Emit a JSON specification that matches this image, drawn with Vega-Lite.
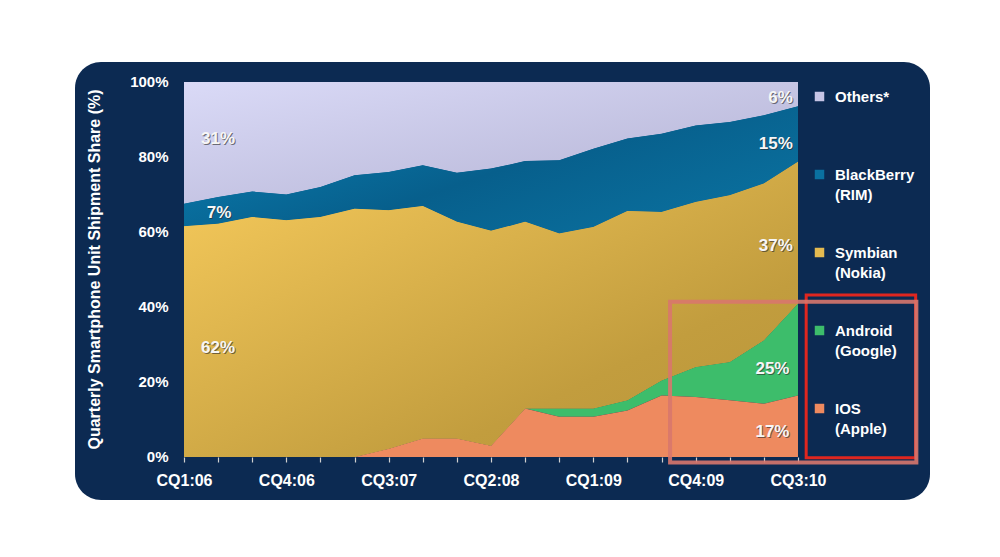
{
  "$schema": "https://vega.github.io/schema/vega-lite/v6.json",
  "width": 855,
  "height": 438,
  "autosize": {"type": "none"},
  "padding": {"left": 75, "top": 62, "right": 70, "bottom": 57},
  "background": "#ffffff",
  "config": {
    "view": {"fill": "#0c2a52", "stroke": null, "cornerRadius": 26},
    "font": "Liberation Sans",
    "axis": {"grid": false}
  },
  "datasets": {
    "share": [
      {"q":0,"os":"Others*","rank":5,"share":32.5},{"q":0,"os":"BlackBerry (RIM)","rank":4,"share":6.0},{"q":0,"os":"Symbian (Nokia)","rank":3,"share":61.5},{"q":0,"os":"Android (Google)","rank":2,"share":0},{"q":0,"os":"IOS (Apple)","rank":1,"share":0},
      {"q":1,"os":"Others*","rank":5,"share":30.7},{"q":1,"os":"BlackBerry (RIM)","rank":4,"share":7.1},{"q":1,"os":"Symbian (Nokia)","rank":3,"share":62.2},{"q":1,"os":"Android (Google)","rank":2,"share":0},{"q":1,"os":"IOS (Apple)","rank":1,"share":0},
      {"q":2,"os":"Others*","rank":5,"share":29.2},{"q":2,"os":"BlackBerry (RIM)","rank":4,"share":6.8},{"q":2,"os":"Symbian (Nokia)","rank":3,"share":64.0},{"q":2,"os":"Android (Google)","rank":2,"share":0},{"q":2,"os":"IOS (Apple)","rank":1,"share":0},
      {"q":3,"os":"Others*","rank":5,"share":30.0},{"q":3,"os":"BlackBerry (RIM)","rank":4,"share":6.9},{"q":3,"os":"Symbian (Nokia)","rank":3,"share":63.1},{"q":3,"os":"Android (Google)","rank":2,"share":0},{"q":3,"os":"IOS (Apple)","rank":1,"share":0},
      {"q":4,"os":"Others*","rank":5,"share":28.0},{"q":4,"os":"BlackBerry (RIM)","rank":4,"share":8.0},{"q":4,"os":"Symbian (Nokia)","rank":3,"share":64.0},{"q":4,"os":"Android (Google)","rank":2,"share":0},{"q":4,"os":"IOS (Apple)","rank":1,"share":0},
      {"q":5,"os":"Others*","rank":5,"share":24.9},{"q":5,"os":"BlackBerry (RIM)","rank":4,"share":8.9},{"q":5,"os":"Symbian (Nokia)","rank":3,"share":66.2},{"q":5,"os":"Android (Google)","rank":2,"share":0},{"q":5,"os":"IOS (Apple)","rank":1,"share":0},
      {"q":6,"os":"Others*","rank":5,"share":24.0},{"q":6,"os":"BlackBerry (RIM)","rank":4,"share":10.2},{"q":6,"os":"Symbian (Nokia)","rank":3,"share":63.6},{"q":6,"os":"Android (Google)","rank":2,"share":0},{"q":6,"os":"IOS (Apple)","rank":1,"share":2.2},
      {"q":7,"os":"Others*","rank":5,"share":22.2},{"q":7,"os":"BlackBerry (RIM)","rank":4,"share":10.9},{"q":7,"os":"Symbian (Nokia)","rank":3,"share":62.0},{"q":7,"os":"Android (Google)","rank":2,"share":0},{"q":7,"os":"IOS (Apple)","rank":1,"share":4.9},
      {"q":8,"os":"Others*","rank":5,"share":24.2},{"q":8,"os":"BlackBerry (RIM)","rank":4,"share":13.1},{"q":8,"os":"Symbian (Nokia)","rank":3,"share":57.8},{"q":8,"os":"Android (Google)","rank":2,"share":0},{"q":8,"os":"IOS (Apple)","rank":1,"share":4.9},
      {"q":9,"os":"Others*","rank":5,"share":23.1},{"q":9,"os":"BlackBerry (RIM)","rank":4,"share":16.6},{"q":9,"os":"Symbian (Nokia)","rank":3,"share":57.3},{"q":9,"os":"Android (Google)","rank":2,"share":0},{"q":9,"os":"IOS (Apple)","rank":1,"share":3.0},
      {"q":10,"os":"Others*","rank":5,"share":21.1},{"q":10,"os":"BlackBerry (RIM)","rank":4,"share":16.2},{"q":10,"os":"Symbian (Nokia)","rank":3,"share":49.8},{"q":10,"os":"Android (Google)","rank":2,"share":0},{"q":10,"os":"IOS (Apple)","rank":1,"share":12.9},
      {"q":11,"os":"Others*","rank":5,"share":20.9},{"q":11,"os":"BlackBerry (RIM)","rank":4,"share":19.5},{"q":11,"os":"Symbian (Nokia)","rank":3,"share":46.7},{"q":11,"os":"Android (Google)","rank":2,"share":2.2},{"q":11,"os":"IOS (Apple)","rank":1,"share":10.7},
      {"q":12,"os":"Others*","rank":5,"share":17.8},{"q":12,"os":"BlackBerry (RIM)","rank":4,"share":20.9},{"q":12,"os":"Symbian (Nokia)","rank":3,"share":48.4},{"q":12,"os":"Android (Google)","rank":2,"share":2.2},{"q":12,"os":"IOS (Apple)","rank":1,"share":10.7},
      {"q":13,"os":"Others*","rank":5,"share":15.1},{"q":13,"os":"BlackBerry (RIM)","rank":4,"share":19.3},{"q":13,"os":"Symbian (Nokia)","rank":3,"share":50.5},{"q":13,"os":"Android (Google)","rank":2,"share":2.7},{"q":13,"os":"IOS (Apple)","rank":1,"share":12.4},
      {"q":14,"os":"Others*","rank":5,"share":13.8},{"q":14,"os":"BlackBerry (RIM)","rank":4,"share":20.9},{"q":14,"os":"Symbian (Nokia)","rank":3,"share":44.9},{"q":14,"os":"Android (Google)","rank":2,"share":4.0},{"q":14,"os":"IOS (Apple)","rank":1,"share":16.4},
      {"q":15,"os":"Others*","rank":5,"share":11.6},{"q":15,"os":"BlackBerry (RIM)","rank":4,"share":20.4},{"q":15,"os":"Symbian (Nokia)","rank":3,"share":44.0},{"q":15,"os":"Android (Google)","rank":2,"share":8.0},{"q":15,"os":"IOS (Apple)","rank":1,"share":16.0},
      {"q":16,"os":"Others*","rank":5,"share":10.7},{"q":16,"os":"BlackBerry (RIM)","rank":4,"share":19.5},{"q":16,"os":"Symbian (Nokia)","rank":3,"share":44.5},{"q":16,"os":"Android (Google)","rank":2,"share":10.2},{"q":16,"os":"IOS (Apple)","rank":1,"share":15.1},
      {"q":17,"os":"Others*","rank":5,"share":8.9},{"q":17,"os":"BlackBerry (RIM)","rank":4,"share":18.2},{"q":17,"os":"Symbian (Nokia)","rank":3,"share":41.8},{"q":17,"os":"Android (Google)","rank":2,"share":16.9},{"q":17,"os":"IOS (Apple)","rank":1,"share":14.2},
      {"q":18,"os":"Others*","rank":5,"share":6.5},{"q":18,"os":"BlackBerry (RIM)","rank":4,"share":14.8},{"q":18,"os":"Symbian (Nokia)","rank":3,"share":37.8},{"q":18,"os":"Android (Google)","rank":2,"share":24.5},{"q":18,"os":"IOS (Apple)","rank":1,"share":16.4}
    ],
    "labelsLeft": [
      {"q":1.0,"share":84.8,"text":"31%"},
      {"q":1.03,"share":65.1,"text":"7%"},
      {"q":1.0,"share":29.1,"text":"62%"}
    ],
    "labelsRight": [
      {"q":17.85,"share":95.8,"text":"6%"},
      {"q":17.85,"share":83.5,"text":"15%"},
      {"q":17.85,"share":56.3,"text":"37%"},
      {"q":17.75,"share":23.5,"text":"25%"},
      {"q":17.75,"share":6.7,"text":"17%"}
    ],
    "boxDark": [{"q":18.24,"q2":21.45,"share":43.2,"share2":-0.2}],
    "boxLight": [{"q":14.25,"q2":21.47,"share":41.4,"share2":-1.47}]
  },
  "layer": [
    {
      "data": {"name": "share"},
      "mark": {"type": "area", "interpolate": "linear"},
      "encoding": {
        "x": {
          "field": "q", "type": "quantitative",
          "scale": {"domain": [-3.196, 21.87], "nice": false, "zero": false},
          "axis": {
            "values": [0,1,2,3,4,5,6,7,8,9,10,11,12,13,14,15,16,17,18],
            "offset": -43, "domain": false, "ticks": true, "tickColor": "#d0d0d0", "tickSize": 5, "tickWidth": 1.2,
            "labelExpr": "datum.value % 3 == 0 ? ['CQ1:06','CQ2:06','CQ3:06','CQ4:06','CQ1:07','CQ2:07','CQ3:07','CQ4:07','CQ1:08','CQ2:08','CQ3:08','CQ4:08','CQ1:09','CQ2:09','CQ3:09','CQ4:09','CQ1:10','CQ2:10','CQ3:10'][datum.value] : ''",
            "labelColor": "#ffffff", "labelFont": "Liberation Sans", "labelFontSize": 16, "labelFontWeight": "bold",
            "labelPadding": 10, "labelFlush": false, "labelOverlap": false, "title": null
          }
        },
        "y": {
          "field": "share", "type": "quantitative", "stack": "zero",
          "scale": {"domain": [-11.47, 105.33], "nice": false, "zero": false},
          "axis": {
            "values": [0,20,40,60,80,100], "offset": -109, "domain": false, "ticks": false,
            "labelExpr": "datum.value + '%'", "labelColor": "#ffffff", "labelFont": "Liberation Sans",
            "labelFontSize": 15, "labelFontWeight": "bold", "labelPadding": 16,
            "title": "Quarterly Smartphone Unit Shipment Share (%)", "titleColor": "#ffffff",
            "titleFont": "Liberation Sans", "titleFontSize": 16, "titleFontWeight": "bold",
            "titleX": -85, "titleY": 207, "titleAngle": -90, "titleBaseline": "alphabetic", "titleAlign": "center"
          }
        },
        "color": {
          "field": "os", "type": "nominal",
          "scale": {
            "domain": ["Others*","BlackBerry (RIM)","Symbian (Nokia)","Android (Google)","IOS (Apple)"],
            "range": ["#c6c5e6","#0a70a0","#e4ba50","#3dbd6b","#ee8a5f"]
          },
          "legend": {
            "orient": "none", "legendX": 737, "legendY": 27, "title": null,
            "symbolType": "square", "symbolSize": 90, "symbolStrokeWidth": 0, "symbolOpacity": 1,
            "labelColor": "#ffffff", "labelFont": "Liberation Sans", "labelFontSize": 15, "labelFontWeight": "bold",
            "labelOffset": 8, "labelLimit": 200, "rowPadding": 42, "gridAlign": "all",
            "labelExpr": "indexof(datum.label, ' (') > 0 ? [slice(datum.label, 0, indexof(datum.label, ' (')), slice(datum.label, indexof(datum.label, ' (') + 1)] : [datum.label, '']",
            "encode": {"labels": {"update": {"lineHeight": {"value": 20}}}}
          }
        },
        "order": {"field": "rank", "type": "quantitative"}
      }
    },
    {
      "data": {"name": "share"},
      "transform": [
        {"stack": "share", "groupby": ["q"], "sort": [{"field": "rank", "order": "ascending"}], "as": ["y0", "y1"]},
        {"filter": "datum.os == 'Others*'"}
      ],
      "mark": {"type": "area", "color": {"gradient": "linear", "x1": 0, "y1": 0, "x2": 1, "y2": 1, "stops": [{"offset": 0, "color": "#dadaf7"}, {"offset": 1, "color": "#b2b1d2"}]}},
      "encoding": {
        "x": {"field": "q", "type": "quantitative"},
        "y": {"field": "y1", "type": "quantitative"},
        "y2": {"field": "y0"}
      }
    },
    {
      "data": {"name": "share"},
      "transform": [
        {"stack": "share", "groupby": ["q"], "sort": [{"field": "rank", "order": "ascending"}], "as": ["y0", "y1"]},
        {"filter": "datum.os == 'BlackBerry (RIM)'"}
      ],
      "mark": {"type": "area", "color": {"gradient": "linear", "x1": 0, "y1": 0, "x2": 1, "y2": 0.6, "stops": [{"offset": 0, "color": "#0b82b5"}, {"offset": 0.6, "color": "#075f8c"}, {"offset": 1, "color": "#0a6e9c"}]}},
      "encoding": {
        "x": {"field": "q", "type": "quantitative"},
        "y": {"field": "y1", "type": "quantitative"},
        "y2": {"field": "y0"}
      }
    },
    {
      "data": {"name": "share"},
      "transform": [
        {"stack": "share", "groupby": ["q"], "sort": [{"field": "rank", "order": "ascending"}], "as": ["y0", "y1"]},
        {"filter": "datum.os == 'Symbian (Nokia)'"}
      ],
      "mark": {"type": "area", "color": {"gradient": "linear", "x1": 0, "y1": 0, "x2": 1, "y2": 1, "stops": [{"offset": 0, "color": "#f7cb5c"}, {"offset": 0.7, "color": "#c29d3e"}, {"offset": 1, "color": "#b8953a"}]}},
      "encoding": {
        "x": {"field": "q", "type": "quantitative"},
        "y": {"field": "y1", "type": "quantitative"},
        "y2": {"field": "y0"}
      }
    },
    {
      "mark": {"type": "rule", "color": "#d8d8d8", "strokeWidth": 2},
      "encoding": {
        "x": {"datum": 0, "type": "quantitative"},
        "x2": {"datum": 18},
        "y": {"datum": 0, "type": "quantitative"}
      }
    },
    {
      "data": {"name": "labelsLeft"},
      "mark": {"type": "text", "align": "center", "baseline": "middle", "fontSize": 17, "fontWeight": "bold", "font": "Liberation Sans", "color": "#2a2a2a", "opacity": 0.6, "dx": 1, "dy": 1},
      "encoding": {
        "x": {"field": "q", "type": "quantitative"},
        "y": {"field": "share", "type": "quantitative"},
        "text": {"field": "text"}
      }
    },
    {
      "data": {"name": "labelsLeft"},
      "mark": {"type": "text", "align": "center", "baseline": "middle", "fontSize": 17, "fontWeight": "bold", "font": "Liberation Sans", "color": "#f6f6f6"},
      "encoding": {
        "x": {"field": "q", "type": "quantitative"},
        "y": {"field": "share", "type": "quantitative"},
        "text": {"field": "text"}
      }
    },
    {
      "data": {"name": "labelsRight"},
      "mark": {"type": "text", "align": "right", "baseline": "middle", "fontSize": 17, "fontWeight": "bold", "font": "Liberation Sans", "color": "#2a2a2a", "opacity": 0.6, "dx": 1, "dy": 1},
      "encoding": {
        "x": {"field": "q", "type": "quantitative"},
        "y": {"field": "share", "type": "quantitative"},
        "text": {"field": "text"}
      }
    },
    {
      "data": {"name": "labelsRight"},
      "mark": {"type": "text", "align": "right", "baseline": "middle", "fontSize": 17, "fontWeight": "bold", "font": "Liberation Sans", "color": "#f6f6f6"},
      "encoding": {
        "x": {"field": "q", "type": "quantitative"},
        "y": {"field": "share", "type": "quantitative"},
        "text": {"field": "text"}
      }
    },
    {
      "data": {"name": "boxDark"},
      "mark": {"type": "rect", "fill": null, "fillOpacity": 0, "stroke": "#e0261f", "strokeWidth": 3},
      "encoding": {
        "x": {"field": "q", "type": "quantitative"},
        "x2": {"field": "q2"},
        "y": {"field": "share", "type": "quantitative"},
        "y2": {"field": "share2"}
      }
    },
    {
      "data": {"name": "boxLight"},
      "mark": {"type": "rect", "fill": null, "fillOpacity": 0, "stroke": "#d8776d", "strokeWidth": 4, "strokeOpacity": 0.9},
      "encoding": {
        "x": {"field": "q", "type": "quantitative"},
        "x2": {"field": "q2"},
        "y": {"field": "share", "type": "quantitative"},
        "y2": {"field": "share2"}
      }
    }
  ]
}
